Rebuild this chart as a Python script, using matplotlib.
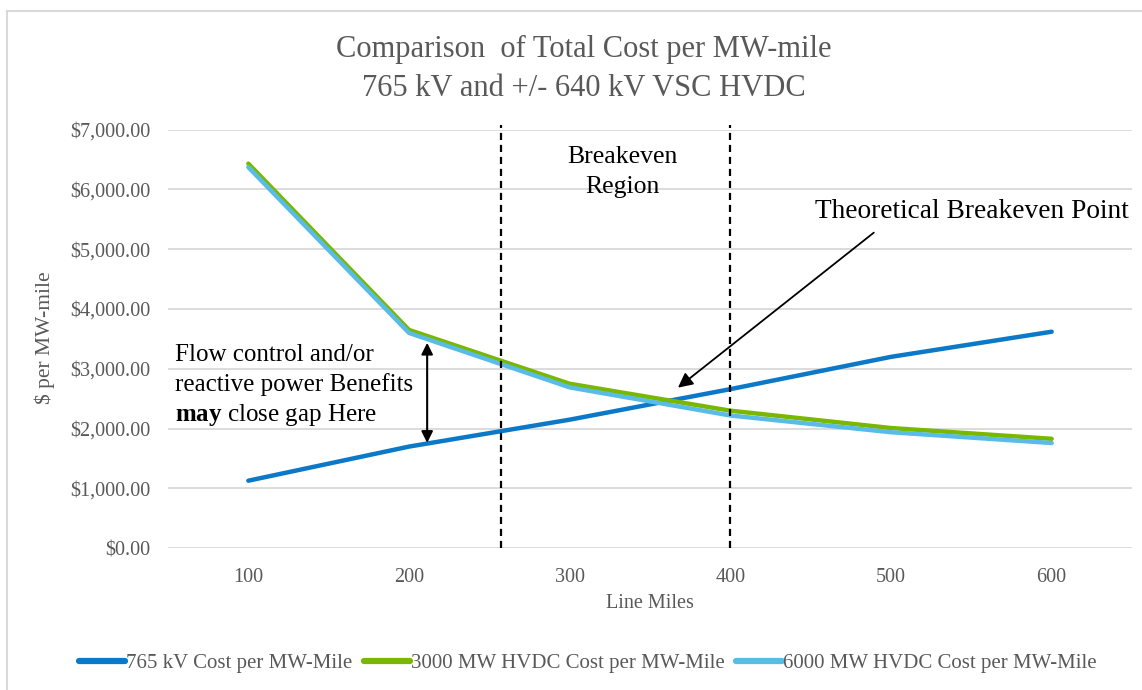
import matplotlib
matplotlib.use("Agg")
import matplotlib.pyplot as plt
from matplotlib.lines import Line2D

# data
miles = [100, 200, 300, 400, 500, 600]
cost_765kv = [1130, 1700, 2150, 2660, 3200, 3620]
cost_3000mw = [6430, 3650, 2750, 2300, 2010, 1830]
cost_6000mw = [6370, 3600, 2690, 2220, 1940, 1760]
series_names = ["765 kV Cost per MW-Mile",
                "3000 MW HVDC Cost per MW-Mile",
                "6000 MW HVDC Cost per MW-Mile"]
yticks = [0, 1000, 2000, 3000, 4000, 5000, 6000, 7000]
region_bounds = [257, 400]
gap_note = ["Flow control and/or", "reactive power Benefits",
            r"$\mathbf{may}$ close gap Here"]

plt.rcParams["font.family"] = ["Liberation Serif", "DejaVu Serif"]
plt.rcParams["mathtext.fontset"] = "custom"
plt.rcParams["mathtext.rm"] = "Liberation Serif"
plt.rcParams["mathtext.bf"] = "Liberation Serif:bold"

GREY = "#595959"
GRID = "#d9d9d9"
colors = ["#0b78c8", "#7ab800", "#58bce6"]

W, H = 1142, 690
fig = plt.figure(figsize=(W / 100, H / 100), dpi=100)
ax = fig.add_axes([168 / W, 1 - 548.3 / H, (1132 - 168) / W, (548.3 - 129.5) / H])

for vals, c in zip([cost_765kv, cost_3000mw, cost_6000mw], colors):
    ax.plot(miles, vals, color=c, lw=3.2, solid_capstyle="round", zorder=3)

ax.set_xlim(50, 650)
ax.set_ylim(0, 7000)
ax.set_xticks(miles)
ax.set_yticks(yticks)
ax.set_yticklabels([f"${v:,.2f}" for v in yticks])
ax.tick_params(length=0, labelsize=14.5, labelcolor=GREY)
ax.tick_params(axis="y", pad=13)
ax.tick_params(axis="x", pad=14)
ax.grid(axis="y", color=GRID, lw=1.3, zorder=0)
for s in ax.spines.values():
    s.set_visible(False)

# breakeven region bounds
for xb in region_bounds:
    ax.plot([xb, xb], [0, 7080], color="black", lw=1.6, ls=(0, (3.2, 2.2)),
            clip_on=False, zorder=4)

ax.text(332.6, 6290, "Breakeven\nRegion", ha="center", va="center",
        fontsize=18.5, linespacing=1.45, color="black")
ax.text(452.6, 5629, "Theoretical Breakeven Point", ha="left", va="center",
        fontsize=19.7, color="black")
ax.annotate("", xy=(367.4, 2685), xytext=(489.3, 5276),
            arrowprops=dict(arrowstyle="-|>", color="black", lw=1.3,
                            mutation_scale=22, shrinkA=0, shrinkB=0), zorder=5)

# note beside the double arrow, one line at a time
for line, y in zip(gap_note, [3235, 2733, 2230]):
    ax.text(54.6, y, line, ha="left", va="center", fontsize=18, color="black")
ax.annotate("", xy=(211.3, 3435), xytext=(211.3, 1762),
            arrowprops=dict(arrowstyle="<|-|>", color="black", lw=1.5,
                            mutation_scale=17, shrinkA=0, shrinkB=0), zorder=5)

fig.text(584 / W, 1 - 69 / H, "Comparison  of Total Cost per MW-mile\n765 kV and +/- 640 kV VSC HVDC",
         ha="center", va="center", fontsize=22, color=GREY, linespacing=1.42)
fig.text(45 / W, 1 - 338 / H, "$ per MW-mile", rotation=90, ha="center", va="center",
         fontsize=15.5, color=GREY)
fig.text(650 / W, 1 - 604 / H, "Line Miles", ha="center", va="center",
         fontsize=14.5, color=GREY)

handles = [Line2D([], [], color=c, lw=4.5, solid_capstyle="round") for c in colors]
fig.legend(handles, series_names, loc="center", bbox_to_anchor=(588 / W, 1 - 663 / H),
           ncol=3, frameon=False, fontsize=15, labelcolor=GREY,
           handlelength=2.2, handletextpad=0.05, columnspacing=0.55)

# chart area border
fig.add_artist(Line2D([7 / W, 7 / W], [0, 1 - 11 / H], color=GRID, lw=1.5))
fig.add_artist(Line2D([7 / W, 1], [1 - 11 / H, 1 - 11 / H], color=GRID, lw=1.5))

fig.savefig("out.png", dpi=100)
